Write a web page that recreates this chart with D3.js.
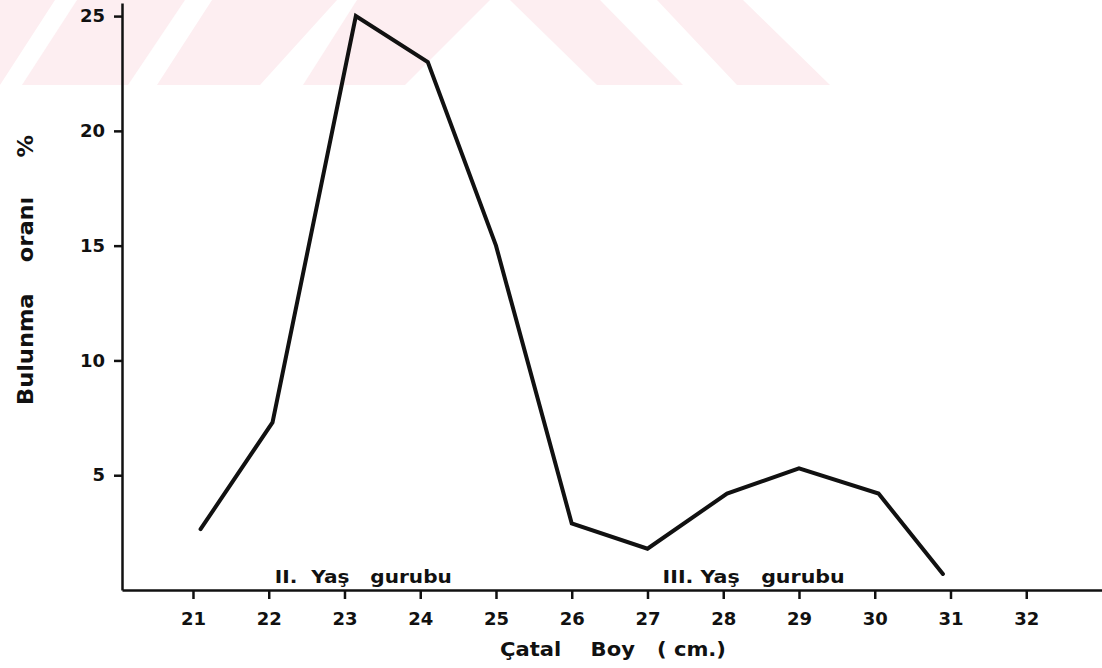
<!DOCTYPE html>
<html>
<head>
<meta charset="utf-8">
<script src="https://cdn.jsdelivr.net/npm/d3@7"></script>
<style>
  body { margin: 0; background: #fff; }
  svg { display: block; }
  text { font-family: "DejaVu Sans", sans-serif; font-weight: bold; fill: #111; }
</style>
</head>
<body>
<svg id="chart" width="1102" height="668"></svg>
<script>
// ---- data ----
const lengthCm = [21.1, 22.05, 23.15, 24.1, 25.0, 26.0, 27.0, 28.05, 29.0, 30.05, 30.9];
const percent  = [2.65, 7.3, 25.0, 23.0, 15.0, 2.9, 1.8, 4.2, 5.3, 4.2, 0.7];
const xTicks = [21, 22, 23, 24, 25, 26, 27, 28, 29, 30, 31, 32];
const yTicks = [5, 10, 15, 20, 25];
const groupLabels = [
  { text: "II.  Yaş   gurubu", x: 22.08, len: 177 },
  { text: "III. Yaş   gurubu", x: 27.2, len: 182 }
];
// watermark stripes: [bottomLeft, bottomRight, topLeft, topRight] in px
const stripes = [
  [-80, 0, -25, 55], [22, 128, 77, 185], [157, 260, 212, 337], [303, 405, 357, 490],
  [597, 683, 510, 600], [737, 830, 657, 743]
];

const svg = d3.select("#chart");
const x = d3.scaleLinear().domain([20.063, 33]).range([122, 1102]);
const y = d3.scaleLinear().domain([0, 25.57]).range([590, 3]);

// watermark
svg.append("g").selectAll("path").data(stripes).join("path")
  .attr("d", s => `M${s[0]},85 L${s[1]},85 L${s[3]},0 L${s[2]},0 Z`)
  .attr("fill", "#fdeef1");

// axes
const xAxis = d3.axisBottom(x).tickValues(xTicks).tickSize(9).tickSizeOuter(0).tickPadding(13);
const gx = svg.append("g").attr("transform", `translate(0,${y(0)})`).call(xAxis);
gx.select(".domain").attr("stroke", "#111").attr("stroke-width", 2.5);
gx.selectAll(".tick line").attr("stroke", "#111").attr("stroke-width", 2.5);
gx.selectAll(".tick text").attr("font-size", 18).attr("font-family", "DejaVu Sans").attr("font-weight", "bold").attr("fill", "#111");

const yAxis = d3.axisLeft(y).tickValues(yTicks).tickSize(8).tickSizeOuter(0).tickPadding(9);
const gy = svg.append("g").attr("transform", `translate(${x(20.063)},0)`).call(yAxis);
gy.select(".domain").attr("stroke", "#111").attr("stroke-width", 2.5);
gy.selectAll(".tick line").attr("stroke", "#111").attr("stroke-width", 2.5);
gy.selectAll(".tick text").attr("font-size", 18).attr("font-family", "DejaVu Sans").attr("font-weight", "bold").attr("fill", "#111");

// line
const pts = lengthCm.map((d, i) => [d, percent[i]]);
svg.append("path").datum(pts)
  .attr("fill", "none").attr("stroke", "#111").attr("stroke-width", 4)
  .attr("stroke-linejoin", "miter").attr("stroke-linecap", "round")
  .attr("d", d3.line().x(d => x(d[0])).y(d => y(d[1])));

// group labels
svg.append("g").selectAll("text").data(groupLabels).join("text")
  .attr("x", d => x(d.x)).attr("y", 583)
  .attr("font-size", 18).style("white-space", "pre")
  .attr("textLength", d => d.len).attr("lengthAdjust", "spacingAndGlyphs")
  .text(d => d.text);

// axis titles
svg.append("text").attr("x", 500).attr("y", 656).attr("font-size", 19)
  .style("white-space", "pre").attr("textLength", 226).attr("lengthAdjust", "spacingAndGlyphs")
  .text("Çatal    Boy   ( cm.)");
svg.append("text").attr("transform", "translate(33,270) rotate(-90)")
  .attr("text-anchor", "middle").attr("font-size", 21)
  .style("white-space", "pre").attr("textLength", 270).attr("lengthAdjust", "spacingAndGlyphs")
  .text("Bulunma    oranı     %");
</script>
</body>
</html>
